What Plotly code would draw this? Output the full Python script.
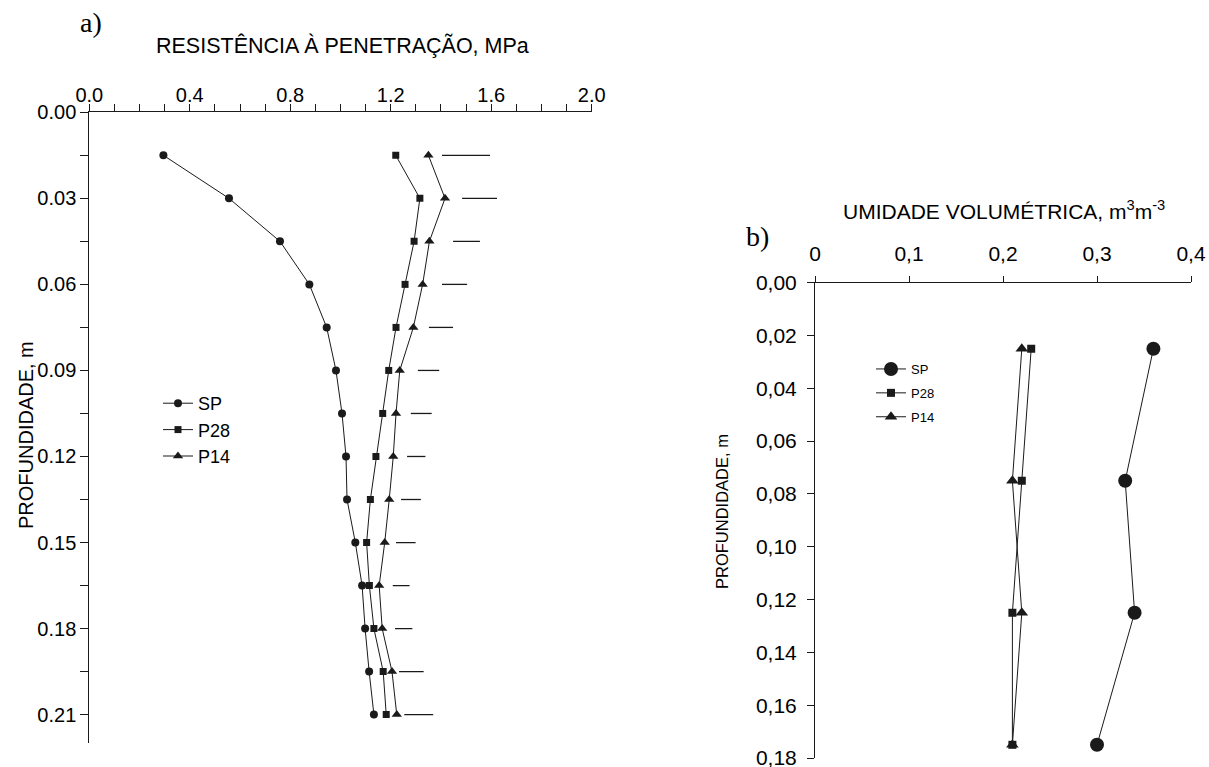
import plotly.graph_objects as go

# ---- (a) penetration resistance profile ----
depth_a = [0.015, 0.030, 0.045, 0.060, 0.075, 0.090, 0.105,
           0.120, 0.135, 0.150, 0.165, 0.180, 0.195, 0.210]
rp_sp = [0.295, 0.556, 0.759, 0.876, 0.945, 0.982, 1.006,
         1.022, 1.026, 1.059, 1.086, 1.098, 1.114, 1.133]
rp_p28 = [1.220, 1.316, 1.293, 1.257, 1.221, 1.192, 1.168,
          1.141, 1.119, 1.104, 1.115, 1.133, 1.170, 1.182]
rp_p14 = [1.350, 1.416, 1.354, 1.327, 1.290, 1.236, 1.221,
          1.210, 1.194, 1.176, 1.154, 1.166, 1.205, 1.224]
# least significant difference bars drawn beside each depth
dms_start = [1.404, 1.484, 1.448, 1.404, 1.352, 1.308, 1.280,
             1.265, 1.241, 1.221, 1.208, 1.217, 1.233, 1.254]
dms_end = [1.595, 1.623, 1.555, 1.504, 1.448, 1.393, 1.363,
           1.338, 1.320, 1.299, 1.275, 1.286, 1.331, 1.369]

# ---- (b) volumetric water content profile ----
depth_b = [0.025, 0.075, 0.125, 0.175]
uv_sp = [0.36, 0.33, 0.34, 0.30]
uv_p28 = [0.23, 0.22, 0.21, 0.21]
uv_p14 = [0.22, 0.21, 0.22, 0.21]

ticks_a_x = [0.0, 0.4, 0.8, 1.2, 1.6, 2.0]
ticks_a_y = [0.00, 0.03, 0.06, 0.09, 0.12, 0.15, 0.18, 0.21]
ticks_b_x = [0.0, 0.1, 0.2, 0.3, 0.4]
ticks_b_y = [0.00, 0.02, 0.04, 0.06, 0.08, 0.10, 0.12, 0.14, 0.16, 0.18]

W, H = 1209, 767
INK = "#1a1a1a"
SANS = "Liberation Sans, Arial, sans-serif"
SERIF = "Liberation Serif, Times New Roman, serif"


def px_x(p):
    return p / W


def px_y(p):
    return 1 - p / H


fig = go.Figure()

series_a = [("SP", rp_sp, "circle", 8),
            ("P28", rp_p28, "square", 7),
            ("P14", rp_p14, "triangle-up", 9)]
for name, vals, sym, size in series_a:
    fig.add_trace(go.Scatter(
        x=vals, y=depth_a, name=name, mode="lines+markers",
        line=dict(color=INK, width=1),
        marker=dict(symbol=sym, size=size, color=INK),
        xaxis="x", yaxis="y", legend="legend", legendgroup="a" + name))

bx, by = [], []
for d, s, e in zip(depth_a, dms_start, dms_end):
    bx += [s, e, None]
    by += [d, d, None]
fig.add_trace(go.Scatter(
    x=bx, y=by, mode="lines", line=dict(color=INK, width=1.3),
    showlegend=False, xaxis="x", yaxis="y", hoverinfo="skip"))

series_b = [("SP", uv_sp, "circle", 14),
            ("P28", uv_p28, "square", 8),
            ("P14", uv_p14, "triangle-up", 11)]
for name, vals, sym, size in series_b:
    fig.add_trace(go.Scatter(
        x=vals, y=depth_b, name=name, mode="lines+markers",
        line=dict(color=INK, width=1),
        marker=dict(symbol=sym, size=size, color=INK),
        xaxis="x2", yaxis="y2", legend="legend2", legendgroup="b" + name))

axis_common = dict(showline=True, linecolor=INK, linewidth=1, showgrid=False,
                   zeroline=False, ticks="outside", tickcolor=INK, tickwidth=1,
                   automargin=False, ticklabeloverflow="allow",
                   tickfont=dict(family=SANS, size=20, color="black"))

fig.update_layout(
    width=W, height=H, margin=dict(l=0, r=0, t=0, b=0, autoexpand=False),
    paper_bgcolor="white", plot_bgcolor="white",
    xaxis=dict(axis_common, domain=[px_x(89.3), px_x(591.7)], range=[0, 2.0],
               side="top", anchor="y", tickvals=ticks_a_x,
               ticktext=[f"{v:.1f}" for v in ticks_a_x], ticklen=7,
               ticklabelstandoff=-6,
               minor=dict(dtick=0.1, ticks="outside", ticklen=7, tickcolor=INK)),
    yaxis=dict(axis_common, domain=[px_y(743.3), px_y(112.3)], range=[0.22, 0],
               anchor="x", tickvals=ticks_a_y,
               ticktext=[f"{v:.2f}" for v in ticks_a_y], ticklen=8,
               minor=dict(dtick=0.015, ticks="outside", ticklen=8, tickcolor=INK)),
    xaxis2=dict(axis_common, domain=[px_x(815), px_x(1191)], range=[0, 0.4],
                side="top", anchor="y2", tickvals=ticks_b_x,
                ticktext=["0" if v == 0 else f"{v:.1f}".replace(".", ",") for v in ticks_b_x],
                ticklen=6, ticklabelstandoff=6,
                tickfont=dict(family=SANS, size=21, color="black")),
    yaxis2=dict(axis_common, domain=[px_y(758), px_y(282.7)], range=[0.18, 0],
                anchor="x2", tickvals=ticks_b_y,
                ticktext=[f"{v:.2f}".replace(".", ",") for v in ticks_b_y],
                ticklen=7, ticklabelstandoff=6,
                tickfont=dict(family=SANS, size=21, color="black")),
    legend=dict(x=px_x(158), y=px_y(385), xanchor="left", yanchor="top",
                font=dict(family=SANS, size=18, color="black"),
                bgcolor="rgba(0,0,0,0)", tracegroupgap=0, itemwidth=30),
    legend2=dict(x=px_x(871), y=px_y(354), xanchor="left", yanchor="top",
                 font=dict(family=SANS, size=13, color="black"),
                 bgcolor="rgba(0,0,0,0)", tracegroupgap=4, itemwidth=30),
)

annotations = [
    dict(text="a)", x=px_x(91), y=px_y(22), font=dict(family=SERIF, size=28)),
    dict(text="RESISTÊNCIA À PENETRAÇÃO, MPa", x=px_x(342), y=px_y(46),
         font=dict(family=SANS, size=21.5)),
    dict(text="PROFUNDIDADE, m", x=px_x(26), y=px_y(435), textangle=-90,
         font=dict(family=SANS, size=20)),
    dict(text="b)", x=px_x(757), y=px_y(236), font=dict(family=SERIF, size=28)),
    dict(text="UMIDADE VOLUMÉTRICA, m<sup>3</sup>m<sup>-3</sup>", x=px_x(1004),
         y=px_y(210), font=dict(family=SANS, size=21)),
    dict(text="PROFUNDIDADE, m", x=px_x(722), y=px_y(512), textangle=-90,
         font=dict(family=SANS, size=16.5)),
]
for a in annotations:
    a.update(xref="paper", yref="paper", showarrow=False,
             xanchor="center", yanchor="middle")
    a["font"]["color"] = "black"
fig.update_layout(annotations=annotations)

fig.write_html("out.html")
